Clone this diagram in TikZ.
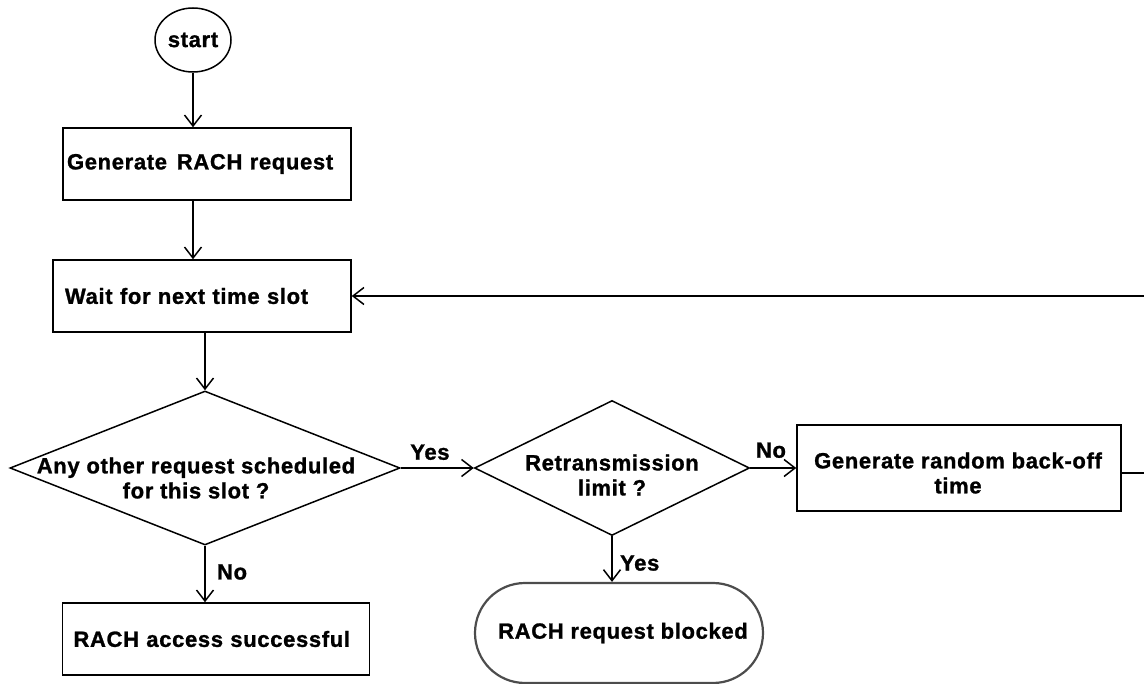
\documentclass[tikz,border=0pt]{standalone}
\usepackage{fontspec}
\setmainfont{Liberation Sans}[BoldFeatures={FakeBold=1.2,LetterSpace=3}]
\usetikzlibrary{arrows.meta,shapes.geometric,shapes.misc}
\begin{document}
\begin{tikzpicture}[x=1pt,y=-1pt,
  every node/.style={font=\fontsize{22}{25}\selectfont\bfseries},
  line/.style={line width=1.5pt},
  arr/.style={line/.try,-{Straight Barb[length=11pt,width=17pt,line width=1.5pt]}},
  procbox/.style={draw,line width=1.5pt,minimum height=72pt,inner sep=0pt},
  leftbox/.style={procbox,align=left,text width=#1,minimum width=#1},
  decision/.style={draw,diamond,line width=1.5pt,inner sep=0pt}]
\useasboundingbox (0,0) rectangle (1144,684);
\clip (0,0) rectangle (1144,684);

% start terminal
\node[draw,ellipse,line width=1.5pt,minimum width=76pt,minimum height=64pt,inner sep=0pt] (start) at (193,40) {start};

% process boxes
\node[leftbox=288pt] (gen) at (207,164) {\hspace*{4pt}Generate\hspace{0.45em}RACH request};
\node[leftbox=298pt] (wait) at (202,296) {\hspace*{12pt}Wait for next time slot};

% decisions: outline nodes with the question set on top
\node[decision,minimum width=390pt,minimum height=154pt] (any) at (205,468) {};
\node[align=center] at (196,478) {Any other request scheduled\\for this slot ?};
\node[decision,minimum width=275pt,minimum height=135pt] (retx) at (612,468) {};
\node[align=center] at (612,475) {Retransmission\\limit ?};

\node[procbox,minimum width=324pt,minimum height=86pt] (backoff) at (959,468) {};
\node[align=center] at (958,473) {Generate random back-off\\time};

% outcomes
\node[leftbox=307pt] (succ) at (216,639) {\hspace*{11pt}RACH access successful};
\node[draw=black!70,line width=2.2pt,rounded rectangle,minimum width=288pt,minimum height=100pt,inner sep=0pt] (block) at (619,633) {\hspace*{8pt}RACH request blocked};

% return path to the waiting step
\coordinate (farright) at (1160,473);

% connectors
\draw[arr] (start) -- (start |- gen.north);
\draw[arr] (gen.south -| start) -- (start |- wait.north);
\draw[arr] (wait.south -| any.north) -- (any.north);
\draw[arr] (any.east) -- node[above,pos=0.4,yshift=4pt] {Yes} (retx.west);
\draw[arr] (retx.east) -- node[above,pos=0.45,yshift=6pt] {No} (backoff.west);
\draw[arr] (any.south) -- node[right,xshift=8pt,yshift=2pt] {No} (any.south |- succ.north);
\draw[arr] (retx.south) -- node[right,xshift=4pt,pos=0.5,yshift=-4pt] {Yes} (retx.south |- block.north);
\draw[line] (backoff.east |- farright) -- (farright);
\draw[arr] (farright) |- (wait.east);
\end{tikzpicture}
\end{document}
